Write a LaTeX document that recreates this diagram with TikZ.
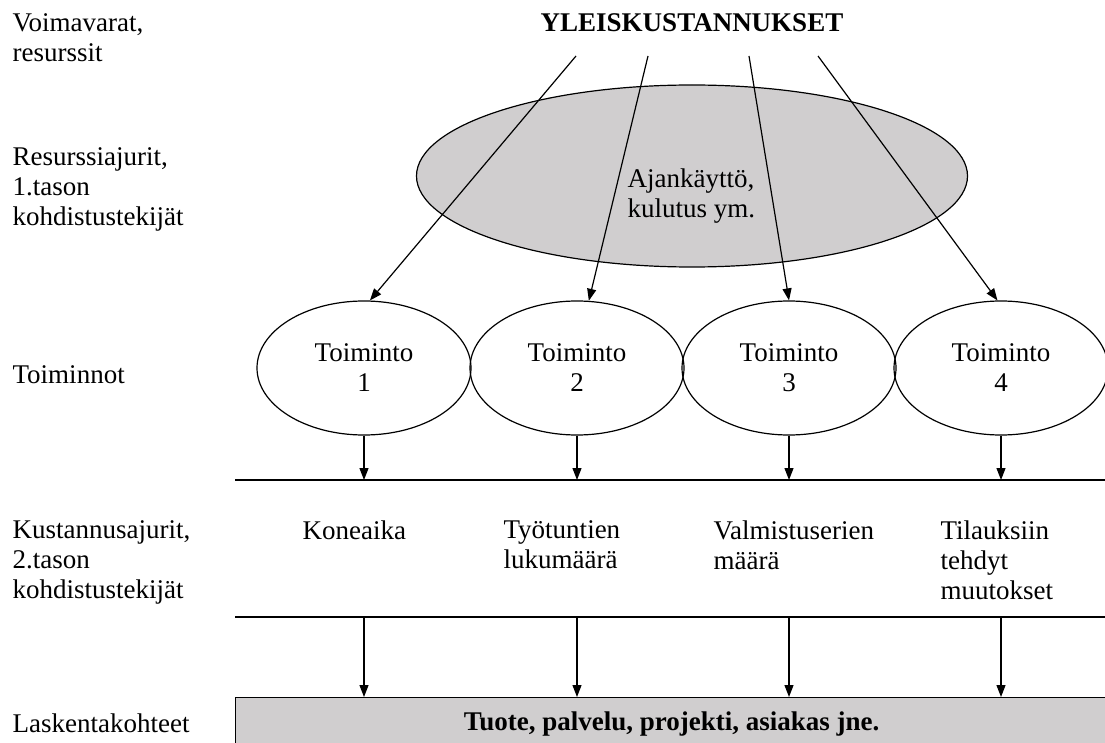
\documentclass[tikz,border=0pt]{standalone}
\usepackage{fontspec}
\setmainfont{Liberation Serif}
\usetikzlibrary{shapes.geometric,arrows.meta}
\definecolor{fillgray}{RGB}{208,206,207}

\begin{document}
\begin{tikzpicture}[x=1pt,y=-1pt,line width=1.2pt,
    >={Triangle[length=12pt,width=9pt]},
    every node/.style={inner sep=0pt,font=\fontsize{27}{30}\selectfont},
    txt/.style={align=left,anchor=north west},
    toim/.style={ellipse,draw,minimum width=214pt,minimum height=134pt,align=center}]
    \useasboundingbox (0,0) rectangle (1105,743);

    \node[txt] (vr) at (12,13) {Voimavarat,\\resurssit};
    \node[txt] (rj) at (12,147) {Resurssiajurit,\\1.tason\\kohdistustekijät};
    \node[txt] (tm) at (12,365) {Toiminnot};
    \node[txt] (kj) at (12,520) {Kustannusajurit,\\2.tason\\kohdistustekijät};
    \node[txt] (lk) at (12,713) {Laskentakohteet};

    \node[anchor=north,font=\fontsize{27}{30}\selectfont\bfseries] (yk) at (692,13) {YLEISKUSTANNUKSET};

    \node[ellipse,draw,fill=fillgray,minimum width=551pt,minimum height=182pt] (res) at (692,176) {};
    \node[txt] (restxt) at (627,168) {Ajankäyttö,\\kulutus ym.};

    \node[toim] (t1) at (364,368) {Toiminto\\1};
    \node[toim] (t2) at (577,368) {Toiminto\\2};
    \node[toim] (t3) at (789,368) {Toiminto\\3};
    \node[toim] (t4) at (1001,368) {Toiminto\\4};

    \foreach \x/\a [count=\i] in {576/85,648/80,749/90,818/93} {
        \coordinate (s\i) at (\x,56);
        \draw[->] (s\i) -- (t\i.\a);
    }

    \coordinate (l1w) at (235,480);
    \coordinate (l1e) at (1110,480);
    \draw (l1w) -- (l1e);

    \foreach \i in {1,...,4}
        \draw[->] (t\i.south) -- (t\i.south |- l1w);

    \node[txt] (ka1) at (302,520) {Koneaika};
    \node[txt] (ka2) at (503,520) {Työtuntien\\lukumäärä};
    \node[txt] (ka3) at (713,520) {Valmistuserien\\määrä};
    \node[txt] (ka4) at (940,520) {Tilauksiin\\tehdyt\\muutokset};

    \coordinate (l2w) at (235,617);
    \coordinate (l2e) at (1110,617);
    \draw (l2w) -- (l2e);

    \node[draw,fill=fillgray,anchor=north west,minimum width=872pt,minimum height=52pt,
        font=\fontsize{27}{30}\selectfont\bfseries] (obj) at (235,697) {Tuote, palvelu, projekti, asiakas jne.};

    \foreach \i in {1,...,4}
        \draw[->] (t\i.south |- l2w) -- (t\i.south |- obj.north);
\end{tikzpicture}
\end{document}
